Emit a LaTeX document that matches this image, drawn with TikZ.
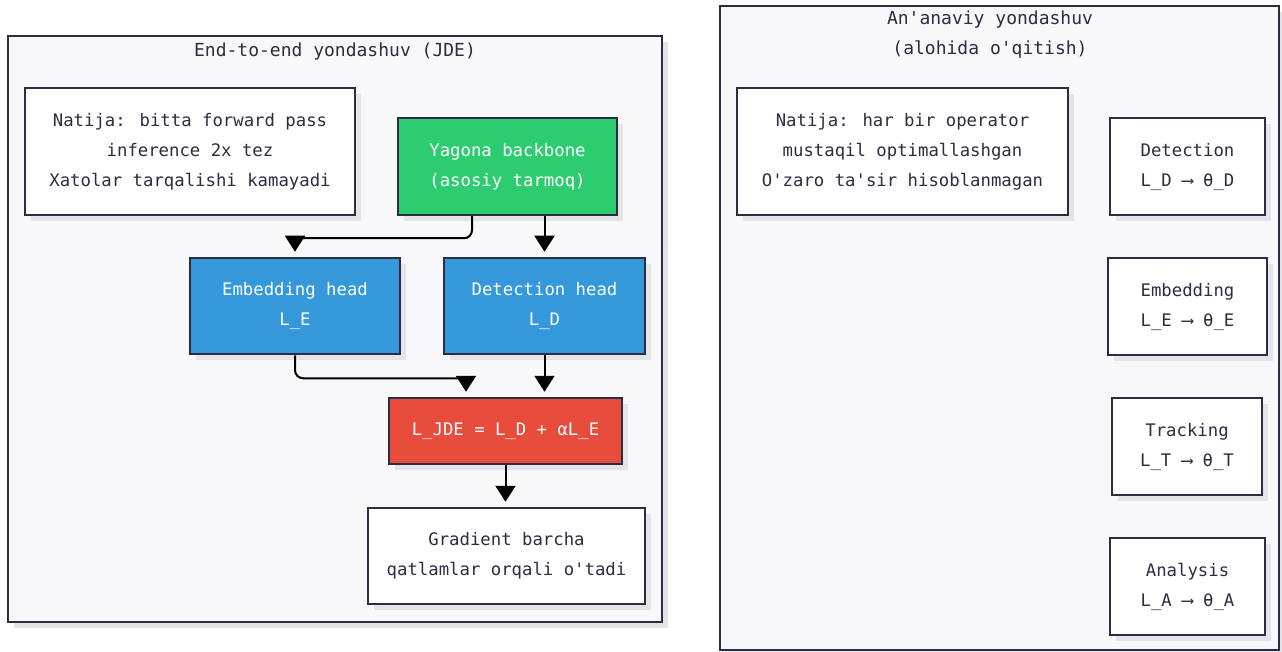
\documentclass[tikz,border=0pt]{standalone}
\usepackage{fontspec}
\setmainfont{DejaVu Sans Mono}[Ligatures=TeXOff]
\usetikzlibrary{arrows.meta, positioning, shadows}
\definecolor{inkdark}{HTML}{2B2D42}
\definecolor{panelbg}{HTML}{F8F8FA}
\definecolor{shadowgray}{HTML}{E4E4E8}
\definecolor{greenbox}{HTML}{2ECC71}
\definecolor{bluebox}{HTML}{3498DB}
\definecolor{redbox}{HTML}{E74C3C}

\begin{document}
\begin{tikzpicture}[x=1pt, y=-1pt,
  txt/.style={font=\fontsize{17.3}{30}\selectfont, text=inkdark, align=center},
  ttl/.style={txt, font=\fontsize{18}{30}\selectfont},
  shade/.style={drop shadow={shadow xshift=6pt, shadow yshift=-6pt, fill=shadowgray, opacity=1}},
  panel/.style={draw=inkdark, line width=2pt, fill=panelbg, shade, inner sep=0pt},
  box/.style={txt, draw=inkdark, line width=2.5pt, fill=white, shade, inner sep=0pt},
  hotbox/.style={box, fill=#1, text=white},
  flow/.style={draw=black, line width=2pt, rounded corners=8pt, shorten >=5pt,
    -{Triangle[width=20pt, length=16pt]}}
]
  \useasboundingbox (0,0) rectangle (1282,652);

  % JDE panel
  \node[panel, minimum width=654pt, minimum height=586pt] (jdepanel) at (335,329) {};
  \node[ttl] (jdetitle) at (335,52) {End-to-end yondashuv (JDE)};

  \node[box, minimum width=330pt, minimum height=127pt] (resjde) at (190,151.5)
    {Natija: bitta forward pass\\inference 2x tez\\Xatolar tarqalishi kamayadi};
  \node[hotbox=greenbox, minimum width=219pt, minimum height=97pt] (backbone) at (507.5,166.5)
    {Yagona backbone\\(asosiy tarmoq)};
  \node[hotbox=bluebox, minimum width=210pt, minimum height=96pt] (embhead) at (295,306)
    {Embedding head\\L\_E};
  \node[hotbox=bluebox, minimum width=201pt, minimum height=96pt] (dethead) at (544.5,306)
    {Detection head\\L\_D};
  \node[hotbox=redbox, minimum width=233pt, minimum height=66pt] (loss) at (505.5,431)
    {L\_JDE = L\_D + αL\_E};
  \node[box, minimum width=277pt, minimum height=96pt] (grad) at (506.5,556)
    {Gradient barcha\\qatlamlar orqali o'tadi};

  \draw[flow] ([xshift=-35.5pt]backbone.south) -- ++(0,22) -| (embhead.north);
  \draw[flow] (backbone.south -| dethead.north) -- (dethead.north);
  \draw[flow] (embhead.south) -- ++(0,23) -| ([xshift=-39.5pt]loss.north);
  \draw[flow] (dethead.south) -- (dethead.south |- loss.north);
  \draw[flow] (loss.south) -- (loss.south |- grad.north);

  % Traditional panel
  \node[panel, minimum width=559pt, minimum height=644pt] (oldpanel) at (999.5,328) {};
  \node[ttl] (oldtitle) at (990,35) {An'anaviy yondashuv\\(alohida o'qitish)};

  \node[box, minimum width=331pt, minimum height=127pt] (resold) at (902.5,151.5)
    {Natija: har bir operator\\mustaqil optimallashgan\\O'zaro ta'sir hisoblanmagan};
  \node[box, minimum width=155pt, minimum height=97pt] (detold) at (1187.5,166.5)
    {Detection\\L\_D ⟶ θ\_D};
  \node[box, minimum width=159pt, minimum height=97pt] (embold) at (1187.5,306.5)
    {Embedding\\L\_E ⟶ θ\_E};
  \node[box, minimum width=150pt, minimum height=97pt] (trkold) at (1187,446.5)
    {Tracking\\L\_T ⟶ θ\_T};
  \node[box, minimum width=155pt, minimum height=97pt] (anaold) at (1187.5,586.5)
    {Analysis\\L\_A ⟶ θ\_A};
\end{tikzpicture}
\end{document}
